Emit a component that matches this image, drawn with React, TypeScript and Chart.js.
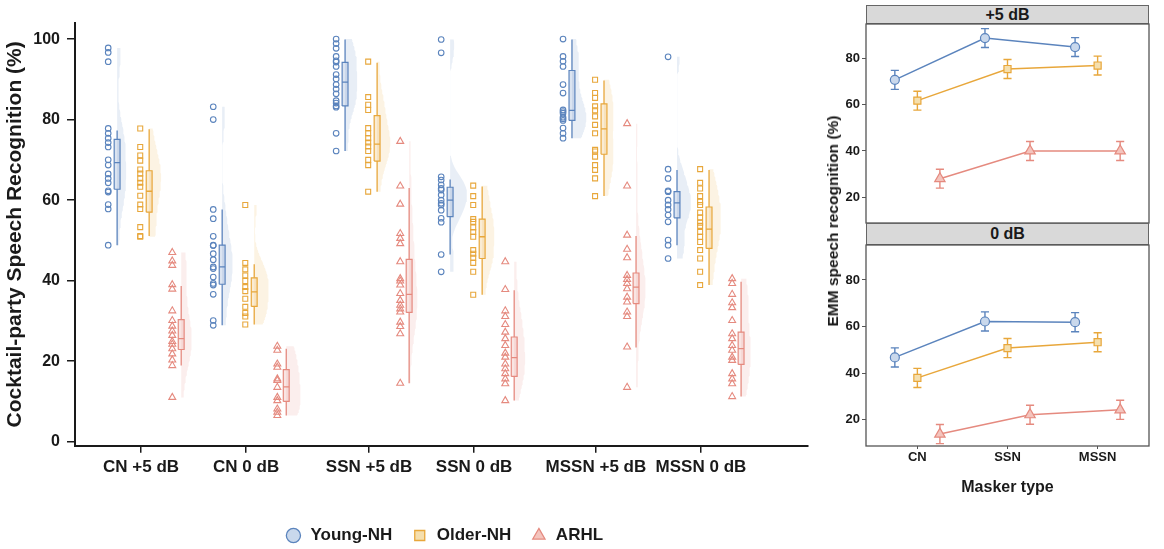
import { useEffect, useRef } from 'react';
import type { CSSProperties } from 'react';
import { Chart, registerables } from 'chart.js';

Chart.register(...registerables);

const FONT = '"Liberation Sans", Arial, Helvetica, sans-serif';
const INK = '#1a1a1a';
Chart.defaults.font.family = FONT;

// ---- left panel: raincloud per condition ----
const conditions = ['CN +5 dB', 'CN 0 dB', 'SSN +5 dB', 'SSN 0 dB', 'MSSN +5 dB', 'MSSN 0 dB'];
const conditionX = [1, 2, 3.17, 4.17, 5.33, 6.33];
const leftYTicks = [0, 20, 40, 60, 80, 100];

const groups = ['Young-NH', 'Older-NH', 'ARHL'];
const groupColor = ['#5b84bd', '#e8a73b', '#e58a7f'];
const groupFill = ['#c9d8ec', '#f5dfae', '#f4c4bd'];
const groupShape = ['circle', 'rect', 'triangle'];

// individual scores (%)
const youngCN5 = [97.8, 96.7, 94.4, 77.8, 76.6, 75.4, 74.3, 73.2, 70.0, 68.7, 66.5, 65.4, 64.3, 62.3, 62.0, 58.9, 57.8, 48.8];
const youngCN0 = [83.2, 80.0, 57.7, 55.4, 51.0, 48.8, 48.7, 46.7, 45.2, 43.4, 43.0, 40.9, 39.3, 38.9, 36.6, 30.1, 28.9];
const youngSSN5 = [100, 98.9, 97.7, 95.7, 94.6, 94.3, 93.2, 91.2, 90.1, 88.7, 87.6, 86.4, 84.7, 84.1, 83.4, 83.1, 76.6, 72.2];
const youngSSN0 = [99.9, 96.6, 65.8, 65.0, 63.8, 62.9, 62.5, 61.3, 60.0, 59.2, 58.8, 57.5, 55.5, 54.5, 46.5, 42.2];
const youngMSSN5 = [100, 95.7, 94.5, 93.2, 88.7, 86.6, 82.4, 82.0, 81.6, 80.6, 80.2, 79.8, 77.9, 76.6, 75.4];
const youngMSSN0 = [95.6, 67.7, 65.4, 62.3, 62.1, 60.0, 58.8, 57.7, 56.3, 54.6, 50.1, 48.8, 45.5];

const olderCN5 = [77.8, 73.2, 71.1, 69.8, 67.6, 66.6, 65.4, 64.3, 63.3, 61.1, 58.9, 57.8, 53.3, 51.1, 50.9];
const olderCN0 = [58.8, 44.4, 42.8, 41.3, 39.9, 38.4, 37.4, 35.5, 33.5, 32.0, 31.1, 29.1];
const olderSSN5 = [94.4, 85.6, 83.7, 82.4, 77.9, 76.6, 75.4, 74.3, 73.3, 72.2, 70.0, 68.7, 62.1];
const olderSSN0 = [63.6, 61.0, 58.8, 55.3, 54.6, 53.2, 52.1, 50.9, 47.6, 46.7, 45.7, 44.4, 42.2, 36.5];
const olderMSSN5 = [89.9, 86.6, 85.4, 83.3, 82.3, 80.8, 78.7, 76.6, 72.5, 72.1, 70.8, 68.7, 67.5, 65.4, 61.0];
const olderMSSN0 = [67.7, 64.3, 62.9, 61.0, 59.6, 58.8, 56.9, 55.7, 54.4, 53.6, 52.1, 50.9, 49.6, 47.6, 45.5, 42.2, 38.9];

const arhlCN5 = [47.0, 44.9, 43.8, 39.0, 37.9, 32.5, 30.1, 28.7, 27.5, 26.4, 24.9, 24.2, 23.1, 21.8, 20.3, 18.9, 11.0];
const arhlCN0 = [23.7, 22.7, 19.3, 18.5, 15.6, 15.2, 13.5, 11.0, 10.2, 8.1, 7.3, 6.5];
const arhlSSN5 = [74.6, 63.5, 59.0, 51.7, 50.5, 49.2, 44.7, 40.5, 39.9, 38.9, 36.8, 35.1, 33.9, 33.0, 32.2, 29.7, 28.6, 26.8, 14.5];
const arhlSSN0 = [44.7, 37.8, 32.5, 31.1, 29.1, 27.2, 25.6, 23.9, 22.0, 21.0, 19.3, 18.1, 16.9, 15.6, 14.4, 10.2];
const arhlMSSN5 = [79.0, 63.5, 51.3, 47.8, 45.7, 41.3, 40.3, 39.3, 38.0, 35.9, 34.7, 32.2, 31.1, 23.5, 13.5];
const arhlMSSN0 = [40.5, 39.3, 36.6, 34.5, 33.3, 30.1, 26.8, 25.6, 23.9, 22.7, 21.0, 20.2, 16.9, 15.6, 14.4, 11.2];

const scores = [
  [youngCN5, youngCN0, youngSSN5, youngSSN0, youngMSSN5, youngMSSN0],
  [olderCN5, olderCN0, olderSSN5, olderSSN0, olderMSSN5, olderMSSN0],
  [arhlCN5, arhlCN0, arhlSSN5, arhlSSN0, arhlMSSN5, arhlMSSN0]
];

// box stats per condition: [lower whisker, q1, median, q3, upper whisker]
const youngBox = [
  [48.8, 62.7, 69.3, 75.1, 77.3], [28.9, 39.1, 43.4, 48.8, 57.7], [72.2, 83.4, 89.3, 94.2, 99.9],
  [46.5, 55.9, 60.0, 63.2, 65.1], [75.4, 79.8, 82.3, 92.2, 99.9], [48.8, 55.6, 59.3, 62.1, 67.5]
];
const olderBox = [
  [51.1, 57.0, 62.2, 67.3, 77.6], [29.1, 33.6, 37.2, 40.7, 44.1], [62.1, 69.7, 73.9, 81.0, 94.1],
  [36.5, 45.5, 50.9, 55.3, 63.4], [61.0, 71.4, 77.7, 83.9, 89.7], [38.9, 48.0, 52.8, 58.3, 67.5]
];
const arhlBox = [
  [18.9, 22.9, 25.6, 30.3, 38.7], [6.5, 10.0, 13.6, 17.9, 23.1], [14.5, 32.1, 36.6, 45.3, 63.0],
  [10.2, 16.2, 20.9, 26.0, 37.6], [23.4, 34.3, 38.4, 41.9, 51.1], [11.2, 19.2, 23.1, 27.2, 39.7]
];
const boxes = [youngBox, olderBox, arhlBox];

// ---- right panels: estimated marginal means ----
const maskers = ['CN', 'SSN', 'MSSN'];
const rightYTicks = [20, 40, 60, 80];
const emmPlus5Young = [70.8, 88.9, 85.0];
const emmPlus5Older = [61.8, 75.5, 77.0];
const emmPlus5Arhl = [28.0, 40.0, 40.0];
const emmZeroYoung = [46.8, 62.2, 61.9];
const emmZeroOlder = [38.0, 50.8, 53.3];
const emmZeroArhl = [13.9, 22.2, 24.3];
const emmHalfCI = 4.1;

const groupOffset = [-0.305, 0, 0.305];
const pointShift = -0.008;
const boxShift = 0.077;
const boxHalf = 0.028;
const violinMax = 0.16;
const pointRadius = [2.8, 3.5, 4];
const dodge = [-0.25, 0, 0.25];
const capHalf = 0.045;
const emmRadius = [4.5, 5, 6];

const GAP = (x: number) => ({ x, y: NaN });

function quantile(s: number[], p: number) {
  const h = (s.length - 1) * p;
  const lo = Math.floor(h);
  const next = lo + 1 < s.length ? s[lo + 1] : s[lo];
  return s[lo] + (h - lo) * (next - s[lo]);
}

// gaussian kde, bandwidth nrd0, trimmed to the data range
function kde(values: number[]) {
  const s = [...values].sort((a, b) => a - b);
  const n = s.length;
  const mean = s.reduce((a, b) => a + b, 0) / n;
  const sd = Math.sqrt(s.reduce((a, v) => a + (v - mean) ** 2, 0) / (n - 1));
  const iqr = quantile(s, 0.75) - quantile(s, 0.25);
  const bw = 0.9 * Math.min(sd, iqr / 1.34) * Math.pow(n, -0.2);
  const lo = s[0];
  const hi = s[n - 1];
  const out: { y: number; d: number }[] = [];
  for (let k = 0; k <= 80; k++) {
    const y = lo + ((hi - lo) * k) / 80;
    let d = 0;
    for (const v of s) d += Math.exp(-0.5 * ((y - v) / bw) ** 2);
    out.push({ y, d: d / (n * bw * Math.sqrt(2 * Math.PI)) });
  }
  return out;
}

function alpha(hex: string, a: number) {
  const v = parseInt(hex.slice(1), 16);
  return `rgba(${(v >> 16) & 255},${(v >> 8) & 255},${v & 255},${a})`;
}

function leftConfig(): any {
  const datasets: any[] = [];
  const dens = scores.map((g) => g.map((vals) => kde(vals)));
  const maxD = Math.max(...dens.flat(2).map((p) => p.d));

  groups.forEach((g, gi) => {
    // points
    datasets.push({
      type: 'line',
      label: g,
      data: scores[gi].flatMap((vals, ci) =>
        vals.map((v) => ({ x: conditionX[ci] + groupOffset[gi] + pointShift, y: v }))
      ),
      showLine: false,
      pointStyle: groupShape[gi],
      pointRadius: pointRadius[gi],
      pointBorderColor: groupColor[gi],
      pointBackgroundColor: 'rgba(255,255,255,0)',
      pointBorderWidth: 1.1,
      order: 0
    });

    const whisk: any[] = [];
    const med: any[] = [];
    boxes[gi].forEach(([lo, q1, m, q3, hi], ci) => {
      const xb = conditionX[ci] + groupOffset[gi] + boxShift;
      whisk.push({ x: xb, y: q3 }, { x: xb, y: hi }, GAP(xb), { x: xb, y: lo }, { x: xb, y: q1 }, GAP(xb));
      med.push({ x: xb - boxHalf, y: m }, { x: xb + boxHalf, y: m }, GAP(xb));
      datasets.push({
        type: 'line',
        label: `box-${gi}-${ci}`,
        data: [
          { x: xb - boxHalf, y: q1 }, { x: xb + boxHalf, y: q1 }, { x: xb + boxHalf, y: q3 },
          { x: xb - boxHalf, y: q3 }, { x: xb - boxHalf, y: q1 }
        ],
        borderColor: groupColor[gi],
        borderWidth: 1.2,
        backgroundColor: alpha(groupColor[gi], 0.22),
        fill: 'shape',
        pointRadius: 0,
        order: 2
      });
      const d = dens[gi][ci];
      datasets.push({
        type: 'line',
        label: `violin-${gi}-${ci}`,
        data: [
          { x: xb, y: d[0].y },
          ...d.map((p) => ({ x: xb + (p.d / maxD) * violinMax, y: p.y })),
          { x: xb, y: d[d.length - 1].y }
        ],
        borderColor: 'rgba(0,0,0,0)',
        borderWidth: 0,
        backgroundColor: alpha(groupColor[gi], 0.14),
        fill: 'shape',
        pointRadius: 0,
        order: 4
      });
    });
    datasets.push({
      type: 'line', label: `whisker-${gi}`, data: whisk, borderColor: groupColor[gi],
      borderWidth: 1.3, pointRadius: 0, spanGaps: false, order: 3
    });
    datasets.push({
      type: 'line', label: `median-${gi}`, data: med, borderColor: groupColor[gi],
      borderWidth: 1.3, pointRadius: 0, spanGaps: false, order: 1
    });
  });

  return {
    type: 'scatter',
    data: { datasets },
    options: {
      responsive: true,
      maintainAspectRatio: false,
      animation: false,
      events: [],
      layout: { autoPadding: false, padding: { top: 23, left: 0, right: 0, bottom: 0 } },
      plugins: {
        tooltip: { enabled: false },
        legend: {
          position: 'bottom',
          labels: {
            usePointStyle: true,
            boxWidth: 17,
            boxHeight: 10,
            padding: 19,
            color: INK,
            font: { size: 17, weight: 'bold', family: FONT },
            generateLabels: () =>
              groups.map((g, gi) => ({
                text: g,
                fillStyle: groupFill[gi],
                strokeStyle: groupColor[gi],
                lineWidth: 1.3,
                pointStyle: groupShape[gi],
                hidden: false,
                datasetIndex: gi,
                fontColor: INK
              }))
          }
        }
      },
      scales: {
        x: {
          type: 'linear',
          min: 0.371,
          max: 7.349,
          offset: false,
          afterFit: (s: any) => { s.height = 62.3; },
          afterBuildTicks: (s: any) => { s.ticks = conditionX.map((v) => ({ value: v })); },
          ticks: {
            autoSkip: false,
            maxRotation: 0,
            padding: 4,
            color: INK,
            font: { size: 17, weight: 'bold', family: FONT },
            callback: (_v: any, i: number) => conditions[i]
          },
          grid: { drawOnChartArea: false, tickLength: 7, color: INK, lineWidth: 1.5 },
          border: { display: true, color: INK, width: 2 }
        },
        y: {
          type: 'linear',
          min: -1,
          max: 104,
          afterFit: (s: any) => { s.width = 75; },
          afterBuildTicks: (s: any) => { s.ticks = leftYTicks.map((v) => ({ value: v })); },
          ticks: { padding: 7, color: INK, font: { size: 16, weight: 'bold', family: FONT } },
          grid: { drawOnChartArea: false, tickLength: 8, color: INK, lineWidth: 1.5 },
          border: { display: true, color: INK, width: 2 },
          title: {
            display: true,
            text: 'Cocktail-party Speech Recognition (%)',
            color: INK,
            font: { size: 21, weight: 'bold', family: FONT },
            padding: { top: 3, bottom: 0 }
          }
        },
        yR: {
          type: 'linear',
          position: 'right',
          display: true,
          afterFit: (s: any) => { s.width = 80; },
          ticks: { display: false },
          grid: { display: false },
          border: { display: false }
        }
      }
    }
  };
}

const panelBorder = {
  id: 'panelBorder',
  afterDraw(chart: any) {
    const { ctx, chartArea: a } = chart;
    ctx.save();
    ctx.strokeStyle = '#555';
    ctx.lineWidth = 1.3;
    ctx.strokeRect(a.left, a.top, a.right - a.left, a.bottom - a.top);
    ctx.restore();
  }
};

function facetConfig(series: number[][], showX: boolean): any {
  const datasets: any[] = [];
  series.forEach((vals, gi) => {
    const err: any[] = [];
    vals.forEach((v, i) => {
      const x = i + 1 + dodge[gi];
      err.push(
        { x, y: v - emmHalfCI }, { x, y: v + emmHalfCI }, GAP(x),
        { x: x - capHalf, y: v - emmHalfCI }, { x: x + capHalf, y: v - emmHalfCI }, GAP(x),
        { x: x - capHalf, y: v + emmHalfCI }, { x: x + capHalf, y: v + emmHalfCI }, GAP(x)
      );
    });
    datasets.push({
      type: 'line',
      label: groups[gi],
      data: vals.map((v, i) => ({ x: i + 1 + dodge[gi], y: v })),
      borderColor: groupColor[gi],
      borderWidth: 1.5,
      pointStyle: groupShape[gi],
      pointRadius: emmRadius[gi],
      pointBorderColor: groupColor[gi],
      pointBackgroundColor: groupFill[gi],
      pointBorderWidth: 1.2,
      order: 0
    });
    datasets.push({
      type: 'line', label: `ci-${gi}`, data: err, borderColor: groupColor[gi],
      borderWidth: 1.4, pointRadius: 0, spanGaps: false, order: 1
    });
  });

  return {
    type: 'scatter',
    data: { datasets },
    plugins: [panelBorder],
    options: {
      responsive: true,
      maintainAspectRatio: false,
      animation: false,
      events: [],
      layout: { autoPadding: false, padding: { top: 1, right: 15, bottom: showX ? 0 : 1, left: 0 } },
      plugins: { legend: { display: false }, tooltip: { enabled: false } },
      scales: {
        x: {
          type: 'linear',
          min: 0.43,
          max: 3.57,
          display: showX,
          afterFit: (s: any) => {
            s.height = showX ? 51 : 0;
            s.paddingLeft = 0;
            s.paddingRight = 0;
          },
          afterBuildTicks: (s: any) => { s.ticks = maskers.map((_m, i) => ({ value: i + 1 })); },
          ticks: {
            autoSkip: false,
            maxRotation: 0,
            padding: 1,
            color: INK,
            font: { size: 13, weight: 'bold', family: FONT },
            callback: (_v: any, i: number) => maskers[i]
          },
          grid: { drawOnChartArea: false, tickLength: 3, color: '#555' },
          border: { display: false },
          title: {
            display: true,
            text: 'Masker type',
            color: INK,
            font: { size: 16, weight: 'bold', family: FONT },
            padding: { top: 8, bottom: 0 }
          }
        },
        y: {
          type: 'linear',
          min: 8.8,
          max: 95,
          afterFit: (s: any) => {
            s.width = 46;
            s.paddingTop = 0;
            s.paddingBottom = 0;
          },
          afterBuildTicks: (s: any) => { s.ticks = rightYTicks.map((v) => ({ value: v })); },
          ticks: { padding: 2, color: INK, font: { size: 13, weight: 'bold', family: FONT } },
          grid: { drawOnChartArea: false, tickLength: 4, color: '#555' },
          border: { display: false }
        }
      }
    }
  };
}

const topConfig = () => facetConfig([emmPlus5Young, emmPlus5Older, emmPlus5Arhl], false);
const bottomConfig = () => facetConfig([emmZeroYoung, emmZeroOlder, emmZeroArhl], true);

function ChartBox({ make, box }: { make: () => any; box: CSSProperties }) {
  const ref = useRef<HTMLCanvasElement | null>(null);
  useEffect(() => {
    if (!ref.current) return;
    const chart = new Chart(ref.current, make());
    return () => chart.destroy();
  }, [make]);
  return (
    <div style={{ position: 'absolute', ...box }}>
      <canvas ref={ref} />
    </div>
  );
}

const strip = (top: number, height: number): CSSProperties => ({
  position: 'absolute',
  left: 866,
  top,
  width: 283,
  height,
  boxSizing: 'border-box',
  border: '1px solid #666',
  background: '#d9d9d9',
  color: INK,
  font: `bold 16px ${FONT}`,
  lineHeight: `${height - 2}px`,
  textAlign: 'center'
});

export default function App() {
  return (
    <div
      style={{
        position: 'fixed', left: 0, top: 0, width: 1164, height: 549,
        overflow: 'hidden', background: '#fff', fontFamily: FONT
      }}
    >
      <ChartBox make={leftConfig} box={{ left: 0, top: 0, width: 888, height: 554 }} />
      <div style={strip(5, 19)}>+5 dB</div>
      <ChartBox make={topConfig} box={{ left: 820, top: 23, width: 344, height: 201 }} />
      <div style={strip(223, 22)}>0 dB</div>
      <ChartBox make={bottomConfig} box={{ left: 820, top: 244, width: 344, height: 253 }} />
      <div
        style={{
          position: 'absolute', left: 833, top: 221,
          transform: 'translate(-50%, -50%) rotate(-90deg)',
          whiteSpace: 'nowrap', color: INK, font: `bold 15.5px ${FONT}`
        }}
      >
        EMM speech recognition (%)
      </div>
    </div>
  );
}
